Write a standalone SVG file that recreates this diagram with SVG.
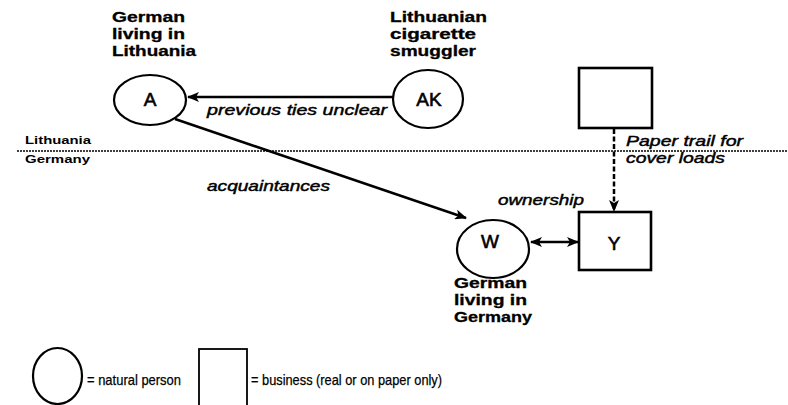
<svg xmlns="http://www.w3.org/2000/svg" width="788" height="405" viewBox="0 0 788 405">
<style>
.node{fill:#fff;stroke:#000;stroke-width:2.2}
.box{fill:#fff;stroke:#000;stroke-width:2.6}
.lbl{font-family:"Liberation Sans",Arial,sans-serif;font-weight:bold;font-size:14.5px;fill:#000;stroke:#000;stroke-width:0.3}
.sm{font-family:"Liberation Sans",Arial,sans-serif;font-weight:bold;font-size:10.5px;fill:#000}
.it{font-family:"Liberation Sans",Arial,sans-serif;font-style:italic;font-size:15px;fill:#000;stroke:#000;stroke-width:0.45}
.let{font-family:"Liberation Sans",Arial,sans-serif;font-size:19px;fill:#000;text-anchor:middle;stroke:#000;stroke-width:0.6}
.leg{font-family:"Liberation Sans",Arial,sans-serif;font-size:15px;fill:#000;stroke:#000;stroke-width:0.25}
.edge{stroke:#000;stroke-width:2.5;fill:none}
</style>
<defs>
<marker id="ah" markerUnits="userSpaceOnUse" viewBox="0 0 12 10" refX="11" refY="5" markerWidth="12" markerHeight="10" orient="auto-start-reverse">
<path d="M0,0 L12,5 L0,10 L3,5 Z" fill="#000"/>
</marker>
</defs>

<line x1="17" y1="151" x2="788" y2="151" stroke="#000" stroke-width="1.4" stroke-dasharray="2 1"/>
<text class="sm" x="25" y="144" textLength="66" lengthAdjust="spacingAndGlyphs">Lithuania</text>
<text class="sm" x="25" y="163" textLength="65" lengthAdjust="spacingAndGlyphs">Germany</text>

<g id="connectors">
<line class="edge" x1="393" y1="97" x2="188" y2="97" marker-end="url(#ah)"/>
<line class="edge" x1="175" y1="119" x2="466" y2="218" marker-end="url(#ah)"/>
<line class="edge" x1="614" y1="129" x2="614" y2="211" stroke-dasharray="5 2.5" marker-end="url(#ah)"/>
<line class="edge" x1="531" y1="242" x2="578" y2="242" marker-start="url(#ah)" marker-end="url(#ah)"/>
<text class="it" x="207" y="115" textLength="180" lengthAdjust="spacingAndGlyphs">previous ties unclear</text>
<text class="it" x="207" y="191" textLength="123" lengthAdjust="spacingAndGlyphs">acquaintances</text>
<text class="it" x="498" y="205" textLength="86" lengthAdjust="spacingAndGlyphs">ownership</text>
<text class="it" x="626" y="146" textLength="117" lengthAdjust="spacingAndGlyphs">Paper trail for</text>
<text class="it" x="626" y="163" textLength="99" lengthAdjust="spacingAndGlyphs">cover loads</text>
</g>

<g id="node-A">
<ellipse class="node" cx="150" cy="100" rx="36" ry="25"/>
<text class="let" x="150" y="106">A</text>
<text class="lbl" x="112" y="22" textLength="73" lengthAdjust="spacingAndGlyphs">German</text>
<text class="lbl" x="112" y="39" textLength="73" lengthAdjust="spacingAndGlyphs">living in</text>
<text class="lbl" x="112" y="56" textLength="84" lengthAdjust="spacingAndGlyphs">Lithuania</text>
</g>

<g id="node-AK">
<ellipse class="node" cx="428" cy="99" rx="35" ry="29"/>
<text class="let" x="429" y="106" font-size="21">AK</text>
<text class="lbl" x="390" y="22" textLength="97" lengthAdjust="spacingAndGlyphs">Lithuanian</text>
<text class="lbl" x="390" y="39" textLength="86" lengthAdjust="spacingAndGlyphs">cigarette</text>
<text class="lbl" x="390" y="56" textLength="86" lengthAdjust="spacingAndGlyphs">smuggler</text>
</g>

<g id="node-B">
<rect class="box" x="579" y="68" width="73" height="60"/>
</g>

<g id="node-Y">
<rect class="box" x="579" y="212" width="72" height="58"/>
<text class="let" x="614" y="250" font-size="21">Y</text>
</g>

<g id="node-W">
<ellipse class="node" cx="493" cy="249" rx="36" ry="29"/>
<text class="let" x="490" y="248">W</text>
<text class="lbl" x="454" y="288" textLength="73" lengthAdjust="spacingAndGlyphs">German</text>
<text class="lbl" x="454" y="305" textLength="73" lengthAdjust="spacingAndGlyphs">living in</text>
<text class="lbl" x="454" y="322" textLength="78" lengthAdjust="spacingAndGlyphs">Germany</text>
</g>

<g id="legend">
<ellipse class="node" cx="57.5" cy="376" rx="24.5" ry="28"/>
<text class="leg" x="87" y="385" textLength="94" lengthAdjust="spacingAndGlyphs">= natural person</text>
<rect x="199" y="349" width="48" height="60" fill="#fff" stroke="#000" stroke-width="1.8"/>
<text class="leg" x="251" y="385" textLength="191" lengthAdjust="spacingAndGlyphs">= business (real or on paper only)</text>
</g>
</svg>
